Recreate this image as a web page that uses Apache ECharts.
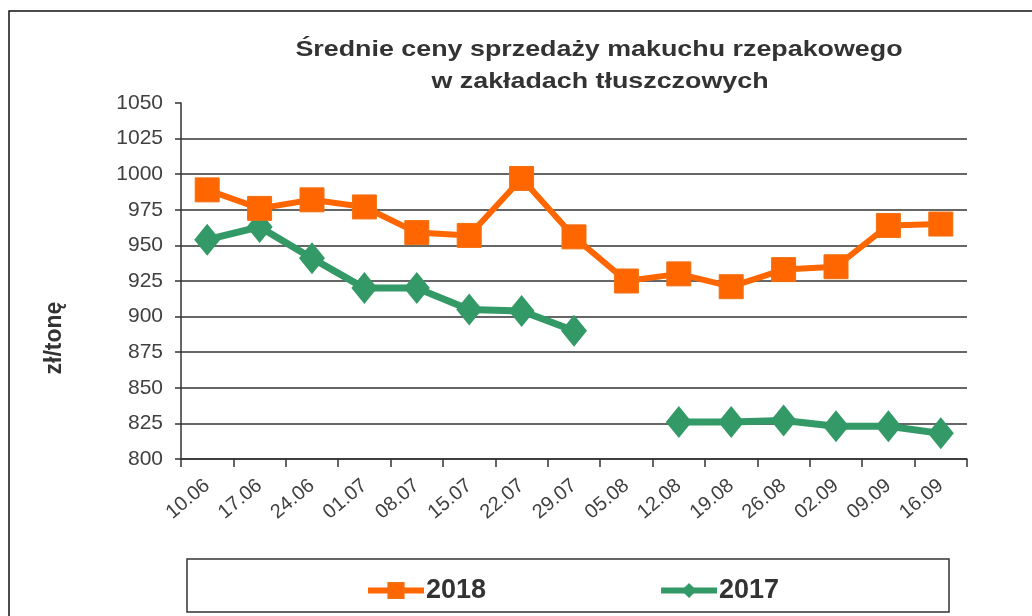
<!DOCTYPE html>
<html>
<head>
<meta charset="utf-8">
<script src="https://cdn.jsdelivr.net/npm/echarts@6/dist/echarts.min.js"></script>
<style>
html,body{margin:0;padding:0;background:#fff;}
#chart{width:1032px;height:616px;}
</style>
</head>
<body>
<div id="chart"></div>
<script>
const categories = ['10.06','17.06','24.06','01.07','08.07','15.07','22.07','29.07','05.08','12.08','19.08','26.08','02.09','09.09','16.09'];
const values2018 = [989, 976, 982, 977, 959, 957, 997, 956, 925, 930, 921, 933, 935, 964, 965];
const values2017 = [954, 963, 941, 920, 920, 905, 904, 890, '-', 826, 826, 827, 823, 823, 818];
const yTicks = {min: 800, max: 1050, interval: 25};
const titleLines = ['Średnie ceny sprzedaży makuchu rzepakowego', 'w zakładach tłuszczowych'];
const yName = 'zł/tonę';

const FONT = '"Liberation Sans", Arial, sans-serif';
const chart = echarts.init(document.getElementById('chart'));
chart.setOption({
  animation: false,
  backgroundColor: '#fff',
  textStyle: {fontFamily: FONT},
  graphic: [
    {type: 'rect', shape: {x: 9, y: 11, width: 1040, height: 640}, style: {fill: 'none', stroke: '#111', lineWidth: 1.5}, silent: true},
    {type: 'rect', shape: {x: 187, y: 559, width: 762, height: 53}, style: {fill: 'none', stroke: '#333', lineWidth: 1.5}, silent: true},
    {type: 'text', x: 599, y: 50, scaleX: 1.22,
     style: {text: titleLines[0], fontFamily: FONT, fontSize: 22, fontWeight: 'bold', fill: '#333', align: 'center', verticalAlign: 'middle'}},
    {type: 'text', x: 600, y: 82, scaleX: 1.22,
     style: {text: titleLines[1], fontFamily: FONT, fontSize: 22, fontWeight: 'bold', fill: '#333', align: 'center', verticalAlign: 'middle'}},
    {type: 'text', x: 55, y: 338, rotation: Math.PI / 2,
     style: {text: yName, fontFamily: FONT, fontSize: 23, fontWeight: 'bold', fill: '#333', align: 'center', verticalAlign: 'middle'}}
  ],
  legend: {
    data: [
      {name: '2018', lineStyle: {width: 6, color: '#FF6600'}},
      {name: '2017', lineStyle: {width: 6, color: '#339966'}}
    ],
    left: 360, top: 572, itemWidth: 56, itemHeight: 19, itemGap: 172,
    textStyle: {fontFamily: FONT, fontSize: 27, fontWeight: 'bold', color: '#333', padding: [0, 0, 0, -3]}
  },
  grid: {left: 181, right: 65, top: 103, bottom: 157, containLabel: false},
  xAxis: {
    type: 'category', data: categories, boundaryGap: true,
    axisLine: {lineStyle: {color: '#333', width: 1.5}},
    axisTick: {show: true, length: 8, lineStyle: {color: '#333', width: 1.5}},
    axisLabel: {rotate: 40, margin: 24, fontSize: 20, color: '#404040', fontFamily: FONT, interval: 0}
  },
  yAxis: {
    type: 'value', min: yTicks.min, max: yTicks.max, interval: yTicks.interval,
    axisLine: {show: true, lineStyle: {color: '#333', width: 1.5}},
    axisTick: {show: true, length: 6, lineStyle: {color: '#333', width: 1.5}},
    axisLabel: {margin: 18, fontSize: 21, color: '#404040', fontFamily: FONT, formatter: v => String(v)},
    splitLine: {show: true, showMaxLine: false, lineStyle: {color: '#333', width: 1.5}}
  },
  series: [
    {
      name: '2018', type: 'line', data: values2018,
      symbol: 'rect', symbolSize: 24,
      lineStyle: {color: '#FF6600', width: 6},
      itemStyle: {color: '#FF6600', borderColor: '#F07010', borderWidth: 1},
      z: 3
    },
    {
      name: '2017', type: 'line', data: values2017, connectNulls: false,
      symbol: 'diamond', symbolSize: [26, 32],
      lineStyle: {color: '#339966', width: 7},
      itemStyle: {color: '#339966'},
      z: 2
    }
  ]
});
</script>
</body>
</html>
